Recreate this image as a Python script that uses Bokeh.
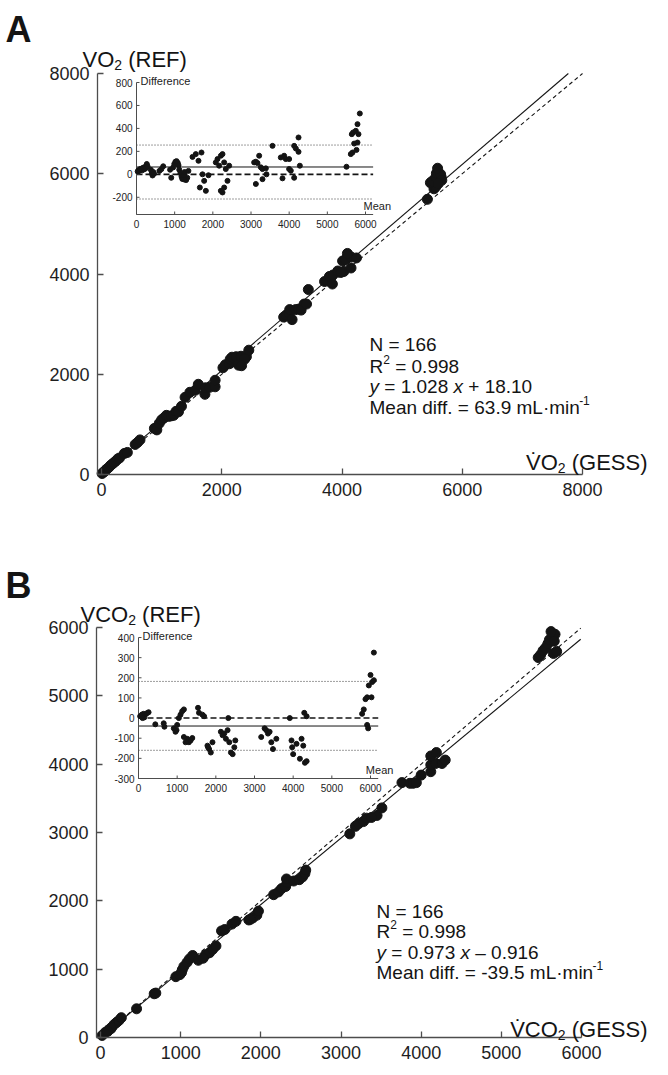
from bokeh.plotting import figure
from bokeh.models import Range1d, FixedTicker, Label
from bokeh.layouts import column
from bokeh.embed import file_html
from bokeh.resources import INLINE
from bokeh.core.properties import value

FONT = "Liberation Sans"
INK = "#141414"
AXIS = "#4d4d4d"

# ---------------- Panel A : VO2 ----------------
a_gess = [10, 30, 50, 70, 90, 120, 150, 180, 210, 240, 270, 300,
          380, 430, 560, 600, 640,
          880, 920, 960, 1000, 1040, 1080, 1120, 1160, 1200, 1240, 1280, 1330,
          1390, 1470, 1560, 1610, 1720, 1730, 1800, 1890, 1890,
          2020, 2060, 2130, 2140, 2170, 2240, 2320, 2410, 2380, 2280, 2330, 2450,
          3030, 3070, 3120, 3130, 3230, 3280, 3370, 3170, 3320, 3410,
          3440,
          3710, 3790, 3850, 3930, 3840, 4030, 3980, 4010, 4060, 4150, 4090, 4240, 4150,
          5420, 5530, 5560, 5470, 5500, 5560, 5570, 5650, 5640, 5660, 5590, 5600]
a_ref = [20, 45, 60, 90, 110, 140, 180, 210, 240, 270, 310, 330,
         420, 440, 600, 640, 690,
         920, 890, 1020, 1090, 1130, 1180, 1160, 1170, 1180, 1260, 1250, 1360,
         1540, 1640, 1680, 1800, 1600, 1730, 1740, 1750, 1880,
         2130, 2190, 2210, 2300, 2340, 2350, 2360, 2350, 2300, 2180, 2170, 2480,
         3140, 3180, 3220, 3290, 3290, 3300, 3400, 3090, 3280, 3400,
         3690,
         3850, 3950, 3980, 4060, 3800, 4050, 4030, 4260, 4290, 4340, 4410, 4320, 4120,
         5490, 5700, 5740, 5820, 5850, 5930, 6010, 5930, 5990, 5870, 6110, 5800]
a_mean = [30, 50, 70, 90, 110, 130, 150, 170, 190, 210, 230, 250, 270, 290,
          375, 400, 420, 440, 460,
          600, 650, 700,
          880, 910, 960, 990, 1020, 1050, 1080, 1100, 1120, 1150, 1180, 1200, 1230, 1260, 1300, 1330, 1360, 1250,
          1467, 1554, 1624, 1703, 1729, 1773, 1817, 1660, 1886,
          2078, 2122, 2166, 2210, 2253, 2297, 2340, 2384, 2253, 2297, 2210, 2428,
          3083, 3127, 3170, 3214, 3258, 3301, 3389, 3127, 3301, 3406,
          3563,
          3781, 3868, 3912, 3999, 3825, 4043, 3999,
          4131, 4175, 4245, 4245, 4280, 4131,
          5502, 5615, 5659, 5641, 5676, 5746, 5790, 5790, 5816, 5764, 5851, 5703]
a_diff = [25, 35, 30, 45, 40, 50, 35, 55, 60, 45, 65, 55, 90, 70,
          40, 10, -10, 20, 5,
          30, 45, 70,
          40, -30, 60, 90, 110, 115, 100, 80, 40, 10, -20, -40, -10, 20, -50, -30, 30, -45,
          152, 176, 118, 190, 0, -57, -144, -115, -8,
          104, 133, 75, 162, 176, 104, 46, -57, -158, -115, -144, 75,
          104, 110, 98, 162, 61, 46, 52, -84, -42, 0,
          248,
          147, 162, 133, 133, -35, 32, 46,
          248, 225, 196, 321, 75, -30,
          66, 176, 190, 350, 365, 379, 437, 277, 350, 213, 530, 268]
a_fit = (1.028, 18.10)          # slope, intercept
a_mean_diff = 63.9
a_limits = (255, -215)
a_ticks = [0, 2000, 4000, 6000, 8000]
a_in_xticks = [0, 1000, 2000, 3000, 4000, 5000, 6000]
a_in_yticks = [-200, 0, 200, 400, 600, 800]
a_in_yrange = (-350, 800)

# ---------------- Panel B : VCO2 ----------------
b_gess = [20, 60, 100, 140, 170, 200, 230, 260, 130, 90,
          450, 670, 690,
          940, 990, 1020, 1010, 1040, 1080, 1110, 1150,
          1220, 1310, 1360, 1400, 1280, 1440,
          1510, 1550, 1640, 1690,
          1850, 1900, 1950, 1970, 1870,
          2160, 2220, 2260, 2310, 2330, 2320, 2410, 2480, 2520, 2550, 2560,
          3110, 3180, 3220, 3280, 3320, 3450, 3510, 3380,
          3760, 3860, 3900, 3940, 4000, 4120, 4120, 4180, 4260, 4300, 4120, 4190,
          5460, 5490, 5520, 5550, 5580, 5600, 5640, 5670, 5660, 5620, 5650, 5690]
b_ref = [30, 75, 110, 150, 190, 220, 250, 290, 130, 90,
         420, 640, 650,
         890, 920, 990, 950, 1040, 1100, 1150, 1200,
         1130, 1210, 1240, 1290, 1160, 1340,
         1560, 1580, 1660, 1700,
         1720, 1750, 1790, 1850, 1730,
         2090, 2130, 2180, 2210, 2270, 2320, 2290, 2310, 2350, 2400, 2450,
         2980, 3090, 3130, 3160, 3210, 3250, 3360, 3220,
         3730, 3720, 3720, 3730, 3840, 3890, 3990, 4010, 4010, 4060, 4120, 4170,
         5560, 5600, 5660, 5700, 5760, 5820, 5850, 5900, 5800, 5940, 5620, 5650]
b_mean = [43, 87, 130, 174, 217, 261, 148, 104,
          435, 652, 670,
          913, 957, 1000, 983, 1043, 1087, 1130, 1174,
          1174, 1261, 1304, 1348, 1217, 1391,
          1539, 1565, 1652, 1696,
          1783, 1826, 1870, 1913, 1800,
          2130, 2174, 2217, 2261, 2304, 2322, 2348, 2391, 2435, 2478, 2504,
          3174, 3261, 3304, 3348, 3391, 3478, 3565, 3435,
          3913, 3957, 3974, 4000, 4087, 4174, 4217, 4261, 4304, 4348, 4287, 4348,
          5783, 5826, 5870, 5913, 5957, 6000, 6043, 6087, 6026, 6087, 5913, 5939]
b_diff = [9, 17, 21, 17, 24, 29, 3, 0,
          -31, -26, -43,
          -51, -68, -34, -60, 0, 17, 34, 43,
          -94, -103, -120, -111, -120, -99,
          51, 26, 17, 9,
          -137, -154, -171, -120, -145,
          -68, -85, -77, -103, -60, 0, -120, -171, -179, -145, -111,
          -94, -51, -60, -77, -68, -154, -103, -120,
          0, -111, -145, -179, -128, -202, -103, -137, -222, -214, 26, 9,
          21, 43, 94, 103, 162, 214, 179, 188, 103, 325, -34, -51]
b_fit = (0.973, -0.916)
b_mean_diff = -39.5
b_limits = (182, -160)
b_ticks = [0, 1000, 2000, 3000, 4000, 5000, 6000]
b_in_xticks = [0, 1000, 2000, 3000, 4000, 5000, 6000]
b_in_yticks = [-300, -200, -100, 0, 100, 200, 300, 400]
b_in_yrange = (-300, 400)

W = 652

# Arial / Liberation Sans advance widths (1/1000 em)
CW = {' ': 278, '\u00a0': 278, '(': 333, ')': 333, '.': 278, '=': 584, '+': 584, '-': 333,
      '\u2013': 556, '\u00b7': 278, '\u0307': 0,
      'A': 667, 'B': 667, 'C': 722, 'D': 722, 'E': 667, 'F': 611, 'G': 778,
      'L': 556, 'M': 833, 'N': 722, 'O': 778, 'R': 722, 'S': 667, 'V': 667,
      'a': 556, 'c': 500, 'd': 556, 'e': 556, 'f': 278, 'i': 222, 'm': 833,
      'n': 556, 'r': 333, 'x': 500, 'y': 500}


def tw(s, size, style="normal"):
    w = 0
    for c in s:
        k = CW.get(c, 556)
        if style == "bold" and c in "AB":
            k = 722
        w += k
    return w * size / 1000.0


def span(flo, fhi, p0, p1, v0, v1):
    s = (p1 - p0) / (v1 - v0)
    return v0 - (p0 - flo) / s, v1 + (fhi - p1) / s


def build(cfg):
    H = cfg["height"]
    L, R, T, B = 0, W, 0, H      # plotting frame covers the whole canvas
    xs, xe = span(L, R, cfg["x0_px"], cfg["xmax_px"], 0, cfg["xmax"])
    ys, ye = span(-B, -T, -cfg["y0_px"], -cfg["ymax_px"], 0, cfg["ymax"])
    p = figure(width=W, height=H, x_range=Range1d(xs, xe), y_range=Range1d(ys, ye),
               output_backend="svg", toolbar_location=None, min_border=0,
               min_border_left=0, min_border_right=0,
               min_border_top=0, min_border_bottom=0)
    p.outline_line_color = None
    p.xgrid.visible = False
    p.ygrid.visible = False
    p.background_fill_color = "white"
    p.border_fill_color = "white"

    def X(px):
        return xs + (px - L) * (xe - xs) / (R - L)

    def Y(py):
        return ys + (B - py) * (ye - ys) / (B - T)

    # main axes (positioned at data locations)
    for ax in (p.xaxis[0], p.yaxis[0]):
        ax.ticker = FixedTicker(ticks=cfg["ticks"])
        ax.axis_line_color = AXIS
        ax.axis_line_width = 1.3
        ax.major_tick_line_color = AXIS
        ax.major_tick_line_width = 1.3
        ax.major_tick_in = 6
        ax.major_tick_out = 0
        ax.minor_tick_line_color = None
        ax.major_label_text_font = FONT
        ax.major_label_text_font_size = "18px"
        ax.major_label_text_color = "#1e1e1e"
    yaxis_at = X(cfg["axis_px"])
    p.xaxis[0].fixed_location = 0
    p.yaxis[0].fixed_location = yaxis_at
    p.xaxis[0].bounds = (yaxis_at, cfg["xmax"])
    p.yaxis[0].bounds = (0, cfg["ymax"])
    p.xaxis[0].major_label_standoff = 8
    p.yaxis[0].major_label_standoff = 8

    # identity line (dashed) and regression line (solid)
    m, b = cfg["fit"]
    top = cfg["ymax"]
    xend_id = min(cfg["line_xmax"], top)
    p.line([0, xend_id], [0, xend_id], line_color=INK, line_width=1.1, line_dash="4 3")
    xend_fit = min(cfg["line_xmax"], (top - b) / m)
    p.line([0, xend_fit], [b, m * xend_fit + b], line_color=INK, line_width=1.1)

    p.scatter(cfg["gess"], cfg["ref"], size=10, color=INK, line_color=INK)

    # ---- inset (Bland-Altman) on extra ranges ----
    ib = cfg["inset"]
    ylo, yhi = cfg["in_yrange"]
    ixs, ixe = span(L, R, ib["x0_px"], ib["x6000_px"], 0, 6000)
    iys, iye = span(-B, -T, -ib["ybot_px"], -ib["ytop_px"], ylo, yhi)
    p.extra_x_ranges = {"ix": Range1d(ixs, ixe)}
    p.extra_y_ranges = {"iy": Range1d(iys, iye)}
    kx = (ixe - ixs) / (R - L)   # data units per pixel
    ky = (iye - iys) / (B - T)
    rn = dict(x_range_name="ix", y_range_name="iy")
    xlen = ib["xlen"]

    up, lo = cfg["limits"]
    p.segment([0, 0], [up, lo], [xlen, xlen], [up, lo], line_color="#3a3a3a",
              line_width=1, line_dash="1 2", **rn)
    p.segment([0], [0], [xlen], [0], line_color=INK, line_width=1.6, line_dash="6 3", **rn)
    md = cfg["mean_diff"]
    p.segment([0], [md], [xlen], [md], line_color=INK, line_width=1, **rn)

    p.segment([0], [ylo], [0], [yhi], line_color=AXIS, line_width=1, **rn)
    p.segment([0], [ylo], [xlen], [ylo], line_color=AXIS, line_width=1, **rn)
    yt = cfg["in_yticks"]
    p.segment([0] * len(yt), yt, [3 * kx] * len(yt), yt, line_color=AXIS, line_width=1, **rn)
    xt = cfg["in_xticks"]
    p.segment(xt, [ylo] * len(xt), xt, [ylo + 3 * ky] * len(xt), line_color=AXIS, line_width=1, **rn)
    p.text([0] * len(yt), yt, text=[str(v) for v in yt], x_offset=-4,
           text_align="right", text_baseline="middle", text_font=value(FONT),
           text_font_size="10px", text_color="#222222", **rn)
    p.text(xt, [ylo] * len(xt), text=[str(v) for v in xt], y_offset=5,
           text_align="center", text_baseline="top", text_font=value(FONT),
           text_font_size="10px", text_color="#222222", **rn)
    p.text([0], [yhi], text=["Difference"], x_offset=4, y_offset=-2,
           text_align="left", text_baseline="middle", text_font=value(FONT),
           text_font_size="11px", text_color="#222222", **rn)
    p.text([ib["mean_x"]], [ylo], text=["Mean"], x_offset=0, y_offset=-3,
           text_align="left", text_baseline="bottom", text_font=value(FONT),
           text_font_size="11px", text_color="#222222", **rn)

    p.scatter(cfg["mean"], cfg["diff"], size=5, color=INK, line_color=INK, **rn)

    # ---- texts ----
    def rich(x_px, base_px, parts, align="left"):
        widths = [tw(t, s, st) for t, s, st, dy in parts]
        start = x_px - sum(widths) if align == "right" else x_px
        off = 0.0
        for (t, s, st, dy), w in zip(parts, widths):
            p.add_layout(Label(x=X(start + off), y=Y(base_px + dy),
                               text=t.replace(" ", "\u00a0"),
                               text_font=FONT, text_font_size=f"{s}px",
                               text_font_style=st, text_color=INK,
                               text_align="left", text_baseline="alphabetic"))
            off += w

    for x_px, base_px, parts, align in cfg["texts"]:
        rich(x_px, base_px, parts, align)
    return p


S = 19  # annotation font size
SUP = 12

cfgA = dict(height=540, axis_px=97, x0_px=101, xmax_px=582, xmax=8000,
            y0_px=474, ymax_px=73, ymax=8000, ticks=a_ticks, fit=a_fit, line_xmax=8000,
            gess=a_gess, ref=a_ref, mean=a_mean, diff=a_diff,
            inset=dict(x0_px=136, x6000_px=365, ytop_px=82, ybot_px=214, xlen=6200, mean_x=5950),
            in_yrange=a_in_yrange, in_yticks=a_in_yticks, in_xticks=a_in_xticks,
            limits=a_limits, mean_diff=a_mean_diff,
            texts=[
                (5, 29, [("A", 36, "bold", 0)], "left"),
                (82, 59, [("VO", 22, "normal", 0), ("2", 14, "normal", 5), (" (REF)", 22, "normal", 0)], "left"),
                (647, 462, [("V\u0307O", 22, "normal", 0), ("2", 14, "normal", 5), (" (GESS)", 22, "normal", 0)], "right"),
                (369, 344, [("N = 166", S, "normal", 0)], "left"),
                (369, 366, [("R", S, "normal", 0), ("2", SUP, "normal", -7), (" = 0.998", S, "normal", 0)], "left"),
                (369, 386, [("y", S, "italic", 0), (" = 1.028 ", S, "normal", 0), ("x", S, "italic", 0), (" + 18.10", S, "normal", 0)], "left"),
                (369, 407, [("Mean diff. = 63.9 mL\u00b7min", S, "normal", 0), ("-1", SUP, "normal", -7)], "left"),
            ])

cfgB = dict(height=527, axis_px=96, x0_px=100, xmax_px=581, xmax=6000,
            y0_px=497, ymax_px=87, ymax=6000, ticks=b_ticks, fit=b_fit, line_xmax=5990,
            gess=b_gess, ref=b_ref, mean=b_mean, diff=b_diff,
            inset=dict(x0_px=138, x6000_px=370, ytop_px=97, ybot_px=238, xlen=6200, mean_x=5880),
            in_yrange=b_in_yrange, in_yticks=b_in_yticks, in_xticks=b_in_xticks,
            limits=b_limits, mean_diff=b_mean_diff,
            texts=[
                (5, 45, [("B", 36, "bold", 0)], "left"),
                (80, 74, [("VCO", 22, "normal", 0), ("2", 14, "normal", 5), (" (REF)", 22, "normal", 0)], "left"),
                (647, 489, [("V\u0307CO", 22, "normal", 0), ("2", 14, "normal", 5), (" (GESS)", 22, "normal", 0)], "right"),
                (376, 371, [("N = 166", S, "normal", 0)], "left"),
                (376, 391, [("R", S, "normal", 0), ("2", SUP, "normal", -7), (" = 0.998", S, "normal", 0)], "left"),
                (376, 412, [("y", S, "italic", 0), (" = 0.973 ", S, "normal", 0), ("x", S, "italic", 0), (" \u2013 0.916", S, "normal", 0)], "left"),
                (376, 432, [("Mean diff. = -39.5 mL\u00b7min", S, "normal", 0), ("-1", SUP, "normal", -7)], "left"),
            ])

pA = build(cfgA)
pB = build(cfgB)
layout = column(pA, pB)
open("out.html", "w").write(file_html(layout, INLINE))
